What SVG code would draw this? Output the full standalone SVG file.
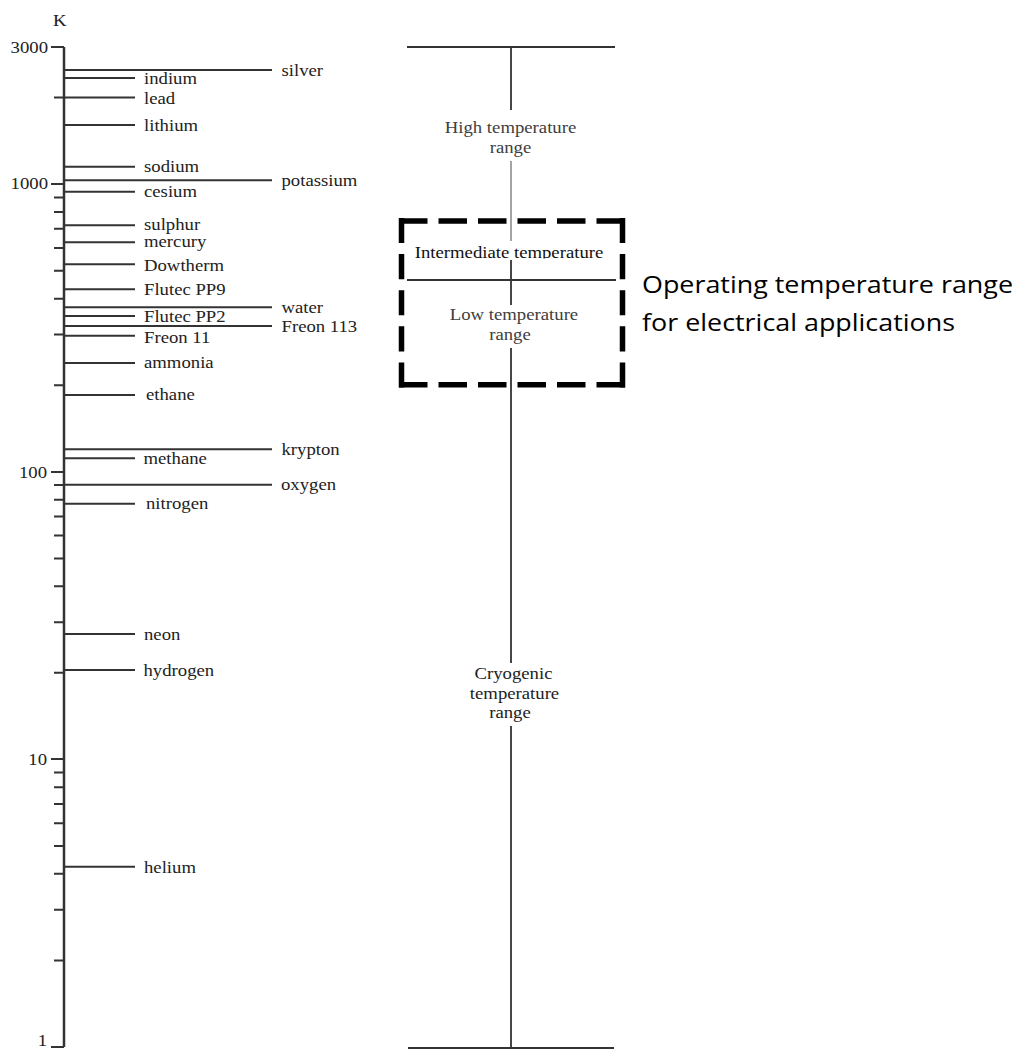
<svg xmlns="http://www.w3.org/2000/svg" width="1023" height="1050" viewBox="0 0 1023 1050">
<style>
.t{font-family:"Liberation Serif","Times New Roman",serif;font-size:16px;fill:#222}
.r{fill:#404040}
.im{fill:#111}
.m{text-anchor:middle}
.e{text-anchor:end}
.ax{stroke:#333;stroke-width:2.5;fill:none}
.tk{stroke:#333;stroke-width:2;fill:none}
.ln{stroke:#333;stroke-width:2;fill:none}
.gr{stroke:#9a9a9a;stroke-width:1.8;fill:none}
.vl{stroke:#333;stroke-width:1.8;fill:none}
.db{stroke:#000;stroke-width:5.5;fill:none}
.op{font-family:"Open Sans","Liberation Sans",sans-serif;font-size:24px;fill:#000}
</style>
<defs>
<clipPath id="clipInt"><rect x="400" y="230" width="222" height="28.5"/></clipPath>
</defs>
<rect width="1023" height="1050" fill="#fff"/>

<g id="axis">
<line class="ax" x1="64" y1="47" x2="64" y2="1047"/>
<path class="tk" d="M51 47H64M51 184H64M51 472H64M51 759H64M51 1047H64"/>
<path class="tk" d="M54 97.6H64M54 197.4H64M54 212.1H64M54 228.7H64M54 248H64M54 270.8H64M54 298.7H64M54 334.6H64M54 385.2H64M54 485H64M54 499.7H64M54 516.4H64M54 535.6H64M54 558.4H64M54 586.2H64M54 622.2H64M54 672.8H64M54 772.6H64M54 787.3H64M54 803.9H64M54 823.2H64M54 846H64M54 873.8H64M54 909.8H64M54 960.4H64"/>
<text class="t" transform="translate(53,26) scale(1.17,1)">K</text>
<text class="t e" transform="translate(48,53) scale(1.17,1)">3000</text>
<text class="t e" transform="translate(48,189) scale(1.17,1)">1000</text>
<text class="t e" transform="translate(47,477.5) scale(1.17,1)">100</text>
<text class="t e" transform="translate(47,765) scale(1.17,1)">10</text>
<text class="t e" transform="translate(47,1045.5) scale(1.17,1)">1</text>
</g>

<g id="fluids">
<g id="silver"><line class="ln" x1="64" y1="70" x2="272" y2="70"/><text class="t" transform="translate(281.5,75.5) scale(1.17,1)">silver</text></g>
<g id="indium"><line class="ln" x1="64" y1="78" x2="135" y2="78"/><text class="t" transform="translate(144,84) scale(1.17,1)">indium</text></g>
<g id="lead"><line class="ln" x1="64" y1="97.6" x2="135" y2="97.6"/><text class="t" transform="translate(144,103.5) scale(1.17,1)">lead</text></g>
<g id="lithium"><line class="ln" x1="64" y1="125" x2="135" y2="125"/><text class="t" transform="translate(144,131) scale(1.17,1)">lithium</text></g>
<g id="sodium"><line class="ln" x1="64" y1="166.7" x2="135" y2="166.7"/><text class="t" transform="translate(144,172) scale(1.17,1)">sodium</text></g>
<g id="potassium"><line class="ln" x1="64" y1="180.3" x2="272" y2="180.3"/><text class="t" transform="translate(281.5,185.5) scale(1.17,1)">potassium</text></g>
<g id="cesium"><line class="ln" x1="64" y1="191.7" x2="135" y2="191.7"/><text class="t" transform="translate(144,197) scale(1.17,1)">cesium</text></g>
<g id="sulphur"><line class="ln" x1="64" y1="225.3" x2="135" y2="225.3"/><text class="t" transform="translate(144,230) scale(1.17,1)">sulphur</text></g>
<g id="mercury"><line class="ln" x1="64" y1="242.3" x2="135" y2="242.3"/><text class="t" transform="translate(144,247) scale(1.17,1)">mercury</text></g>
<g id="dowtherm"><line class="ln" x1="64" y1="264.3" x2="135" y2="264.3"/><text class="t" transform="translate(144,271) scale(1.17,1)">Dowtherm</text></g>
<g id="flutec-pp9"><line class="ln" x1="64" y1="289.3" x2="135" y2="289.3"/><text class="t" transform="translate(144,295) scale(1.17,1)">Flutec PP9</text></g>
<g id="water"><line class="ln" x1="64" y1="307.3" x2="272" y2="307.3"/><text class="t" transform="translate(281.5,313) scale(1.17,1)">water</text></g>
<g id="flutec-pp2"><line class="ln" x1="64" y1="316" x2="135" y2="316"/><text class="t" transform="translate(144,322) scale(1.17,1)">Flutec PP2</text></g>
<g id="freon-113"><line class="ln" x1="64" y1="326" x2="272" y2="326"/><text class="t" transform="translate(281.5,331.5) scale(1.17,1)">Freon 113</text></g>
<g id="freon-11"><line class="ln" x1="64" y1="335.7" x2="135" y2="335.7"/><text class="t" transform="translate(144,342.5) scale(1.17,1)">Freon 11</text></g>
<g id="ammonia"><line class="ln" x1="64" y1="363" x2="135" y2="363"/><text class="t" transform="translate(144,368) scale(1.17,1)">ammonia</text></g>
<g id="ethane"><line class="ln" x1="64" y1="395" x2="135" y2="395"/><text class="t" transform="translate(146,400) scale(1.17,1)">ethane</text></g>
<g id="krypton"><line class="ln" x1="64" y1="449.3" x2="272" y2="449.3"/><text class="t" transform="translate(281.5,455) scale(1.17,1)">krypton</text></g>
<g id="methane"><line class="ln" x1="64" y1="458.3" x2="135" y2="458.3"/><text class="t" transform="translate(143.5,463.5) scale(1.17,1)">methane</text></g>
<g id="oxygen"><line class="ln" x1="64" y1="484.7" x2="272" y2="484.7"/><text class="t" transform="translate(281,489.5) scale(1.17,1)">oxygen</text></g>
<g id="nitrogen"><line class="ln" x1="64" y1="503.7" x2="135" y2="503.7"/><text class="t" transform="translate(146,508.5) scale(1.17,1)">nitrogen</text></g>
<g id="neon"><line class="ln" x1="64" y1="634" x2="135" y2="634"/><text class="t" transform="translate(144,640) scale(1.17,1)">neon</text></g>
<g id="hydrogen"><line class="ln" x1="64" y1="670" x2="135" y2="670"/><text class="t" transform="translate(143.5,675.5) scale(1.17,1)">hydrogen</text></g>
<g id="helium"><line class="ln" x1="64" y1="866.7" x2="135" y2="866.7"/><text class="t" transform="translate(144,872.5) scale(1.17,1)">helium</text></g>
</g>

<g id="connectors">
<line class="ln" x1="407" y1="47" x2="615" y2="47"/>
<line class="vl" x1="511" y1="47" x2="511" y2="110"/>
<line class="gr" x1="511" y1="161" x2="511" y2="241"/>
<line class="vl" x1="511" y1="260" x2="511" y2="305"/>
<line class="ln" x1="407" y1="280" x2="616" y2="280"/>
<line class="vl" x1="511" y1="348" x2="511" y2="663"/>
<line class="vl" x1="511" y1="726" x2="511" y2="1048"/>
<line class="ln" x1="408" y1="1048" x2="614" y2="1048"/>
</g>

<g id="high-range">
<text class="t r m" transform="translate(510.5,133) scale(1.17,1)">High temperature</text>
<text class="t r m" transform="translate(510.5,153) scale(1.17,1)">range</text>
</g>
<g id="intermediate-range">
<g clip-path="url(#clipInt)"><text class="t im m" transform="translate(509,257.5) scale(1.17,1)">Intermediate temperature</text></g>
</g>
<g id="low-range">
<text class="t r m" transform="translate(514,320) scale(1.17,1)">Low temperature</text>
<text class="t r m" transform="translate(510,340) scale(1.17,1)">range</text>
</g>
<g id="cryogenic-range">
<text class="t m" transform="translate(513.5,678.5) scale(1.17,1)">Cryogenic</text>
<text class="t m" transform="translate(514.5,698.5) scale(1.17,1)">temperature</text>
<text class="t m" transform="translate(510,717.5) scale(1.17,1)">range</text>
</g>

<g id="operating-box">
<line class="db" x1="399" y1="221" x2="625" y2="221" stroke-dasharray="28.5 11"/>
<line class="db" x1="399" y1="384.7" x2="625" y2="384.7" stroke-dasharray="28.5 11"/>
<line class="db" x1="401.5" y1="218" x2="401.5" y2="387.5" stroke-dasharray="25.1 11"/>
<line class="db" x1="622.5" y1="218" x2="622.5" y2="387.5" stroke-dasharray="25.1 11"/>
<text class="op" x="642" y="293" textLength="371" lengthAdjust="spacingAndGlyphs">Operating temperature range</text>
<text class="op" x="642" y="331" textLength="313" lengthAdjust="spacingAndGlyphs">for electrical applications</text>
</g>
</svg>
